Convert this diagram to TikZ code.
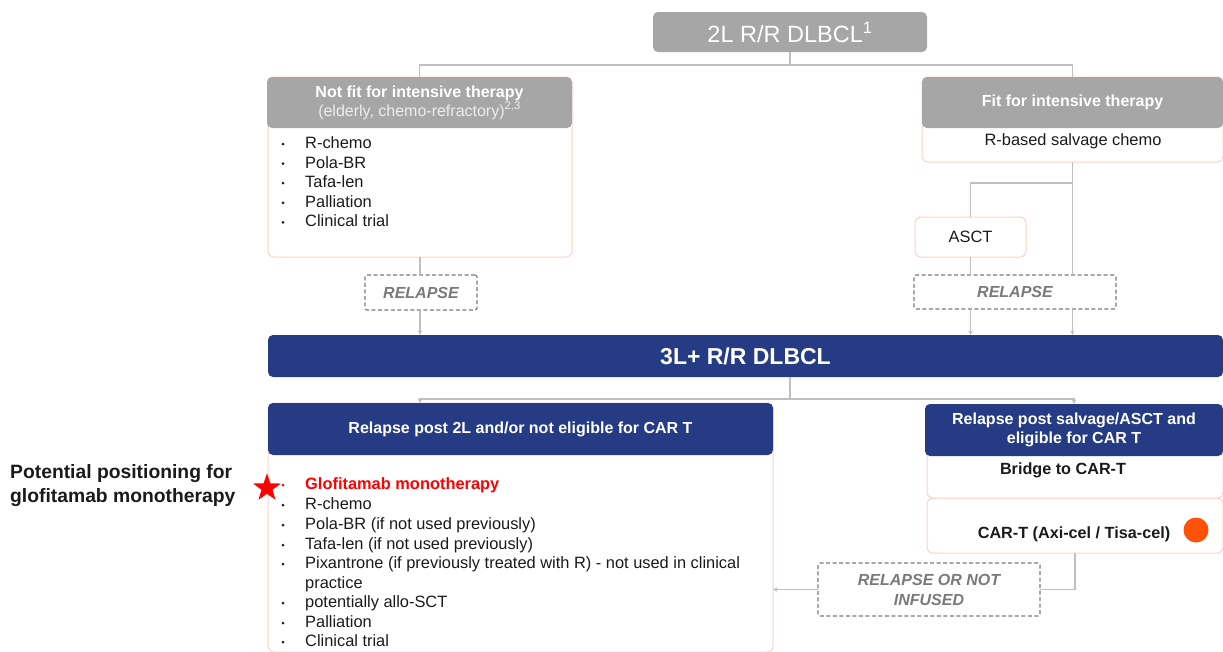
\documentclass[tikz,border=0pt]{standalone}
\usepackage{fontspec}
\setmainfont{Liberation Sans}
\usepackage{graphicx}
\usetikzlibrary{arrows.meta,shapes.geometric}
\definecolor{hdrgray}{HTML}{A6A6A6}
\definecolor{navy}{HTML}{253C84}
\definecolor{pinkb}{HTML}{F9D3CB}
\definecolor{linegray}{HTML}{BFBFBF}
\definecolor{dgray}{HTML}{7A7A7A}
\definecolor{dotorange}{HTML}{FF5208}
\definecolor{subt}{HTML}{EDEDED}
\definecolor{glored}{HTML}{FF0000}
\definecolor{txt}{HTML}{1A1A1A}
\begin{document}
\begin{tikzpicture}[x=1pt,y=-1pt,
 conn/.style={draw=linegray, line width=1.3pt},
 arr/.style={conn, -{Stealth[length=4.5pt,width=4.5pt]}},
 boxbase/.style={anchor=north west, inner sep=0pt, outer sep=0pt},
 hgray/.style={boxbase, fill=hdrgray, rounded corners=5pt, text=white, align=center, font=\bfseries\fontsize{16}{19}\selectfont},
 hnavy/.style={boxbase, fill=navy, rounded corners=5pt, text=white, align=center, font=\bfseries\fontsize{16}{19}\selectfont},
 bodybox/.style={boxbase, draw=pinkb, line width=1pt, fill=white, rounded corners=6pt},
 dashbox/.style={boxbase, draw=dgray, line width=1.1pt, dash pattern=on 4pt off 2.5pt, rounded corners=2pt, fill=white, text=dgray, align=center, font=\bfseries\itshape\fontsize{16}{20}\selectfont},
 itemtxt/.style={anchor=base west, inner sep=0pt, text=txt, font=\fontsize{16.4}{19}\selectfont},
 bul/.style={circle, fill=txt, minimum size=3pt, inner sep=0pt},
 plain/.style={inner sep=0pt, text=txt, font=\fontsize{16.4}{19}\selectfont},
]
\useasboundingbox (0,0) rectangle (1223,651);
\fill[white] (0,0) rectangle (1223,651);

% top
\node[hgray, minimum width=274pt, minimum height=40pt, font=\fontsize{23.5}{26}\selectfont] (top) at (653,12) {2L R/R DLBCL\textsuperscript{1}};

% not fit
\node[bodybox, minimum width=304pt, minimum height=180pt] (nfbody) at (268,77) {};
\node[hgray, minimum width=305pt, minimum height=51pt] (nfhead) at (267,77) {Not fit for intensive therapy\\{\mdseries\color{subt}(elderly, chemo-refractory)\textsuperscript{2,3}}};
\foreach \t [count=\i] in {R-chemo, Pola-BR, Tafa-len, Palliation, Clinical trial} {
  \pgfmathsetmacro{\yy}{143+19.6*(\i-1)}
  \node[bul] (nfb\i) at (283,\yy+1) {};
  \node[itemtxt] (nfi\i) at (305,\yy+5.5) {\t};
}

% fit
\node[bodybox, minimum width=301pt, minimum height=85pt] (fitbody) at (922,77) {};
\node[hgray, minimum width=301pt, minimum height=51pt] (fithead) at (922,77) {Fit for intensive therapy};
\node[plain] (rbs) at (1073,141) {R-based salvage chemo};

% ASCT and relapse boxes
\node[bodybox, minimum width=111pt, minimum height=40pt, font=\fontsize{16.4}{19}\selectfont, text=txt] (asct) at (915,217) {ASCT};
\node[dashbox, minimum width=202pt, minimum height=34pt] (relR) at (914,275) {RELAPSE};
\node[dashbox, minimum width=112pt, minimum height=35pt] (relL) at (365,275) {RELAPSE};

% 3L
\node[hnavy, minimum width=955pt, minimum height=42pt, font=\bfseries\fontsize{23}{26}\selectfont] (l3) at (268,335) {3L+ R/R DLBCL};

% left bottom
\node[bodybox, minimum width=505pt, minimum height=249pt] (lbbody) at (268,403) {};
\node[hnavy, minimum width=505pt, minimum height=52pt] (lbhead) at (268,403) {Relapse post 2L and/or not eligible for CAR T};
\node[star, star points=5, star point ratio=2.5, fill=glored, minimum size=29pt, inner sep=0pt] (star) at (267,488) {};
\node[bul, fill=glored] (lbb1) at (283,485) {};
\node[itemtxt, text=glored, font=\bfseries\fontsize{16.4}{19}\selectfont] (lbi1) at (305,489.5) {Glofitamab monotherapy};
\node[bul] (lbb2) at (283,505) {};
\node[itemtxt] (lbi2) at (305,509.5) {R-chemo};
\node[bul] (lbb3) at (283,525) {};
\node[itemtxt] (lbi3) at (305,529.5) {Pola-BR (if not used previously)};
\node[bul] (lbb4) at (283,545) {};
\node[itemtxt] (lbi4) at (305,549.5) {Tafa-len (if not used previously)};
\node[bul] (lbb5) at (283,564) {};
\node[itemtxt] (lbi5) at (305,568.5) {Pixantrone (if previously treated with R) - not used in clinical};
\node[itemtxt] (lbi6) at (305,588.5) {practice};
\node[bul] (lbb7) at (283,603) {};
\node[itemtxt] (lbi7) at (305,607.5) {potentially allo-SCT};
\node[bul] (lbb8) at (283,623) {};
\node[itemtxt] (lbi8) at (305,627.5) {Palliation};
\node[bul] (lbb9) at (283,642) {};
\node[itemtxt] (lbi9) at (305,646.5) {Clinical trial};

% left label
\node[anchor=west, inner sep=0pt, align=left, text=txt, font=\bfseries\fontsize{19.3}{24}\selectfont] (pos) at (10,486) {Potential positioning for\\glofitamab monotherapy};

% right bottom
\node[bodybox, minimum width=296pt, minimum height=55pt] (cart) at (927,498) {};
\node[bodybox, minimum width=296pt, minimum height=58pt] (bridge) at (927,440) {};
\node[hnavy, minimum width=298pt, minimum height=52pt] (rbhead) at (925,404) {Relapse post salvage/ASCT and\\eligible for CAR T};
\node[plain, font=\bfseries\fontsize{16.2}{19}\selectfont] (bridget) at (1063,470) {Bridge to CAR-T};
\node[plain, font=\bfseries\fontsize{16.2}{19}\selectfont] (cartt) at (1074,534) {CAR-T (Axi-cel / Tisa-cel)};
\node[circle, fill=dotorange, minimum size=25pt, inner sep=0pt] (dot) at (1196,530) {};

\node[dashbox, minimum width=222pt, minimum height=53pt] (relON) at (818,563) {RELAPSE OR NOT\\INFUSED};

% connectors
\coordinate (yt) at (0,65);
\coordinate (ym) at (0,399);
\coordinate (yb) at (0,183);
\draw[conn] (top.south) -- (top.south |- yt);
\draw[conn] (nfhead.north) |- (top.south |- yt) -| (fithead.north);
\draw[conn] (nfbody.south) -- (relL.north -| nfbody.south);
\draw[arr] (relL.south -| nfbody.south) -- (l3.north -| nfbody.south);
\draw[conn] (fitbody.south) -- (relR.north -| fitbody.south);
\draw[conn] (fitbody.south |- yb) -| (asct.north);
\draw[conn] (asct.south) -- (relR.north -| asct.south);
\draw[arr] (relR.south -| asct.south) -- (l3.north -| asct.south);
\draw[arr] (relR.south -| fitbody.south) -- (l3.north -| fitbody.south);
\draw[conn] (l3.south -| top.south) -- (top.south |- ym);
\draw[arr] (top.south |- ym) -| (lbhead.north -| nfbody.south);
\draw[arr] (top.south |- ym) -| (rbhead.north);
\draw[conn] (cart.south) |- (relON.east);
\draw[arr] (relON.west) -- (relON.west -| lbbody.east);
\end{tikzpicture}
\end{document}
